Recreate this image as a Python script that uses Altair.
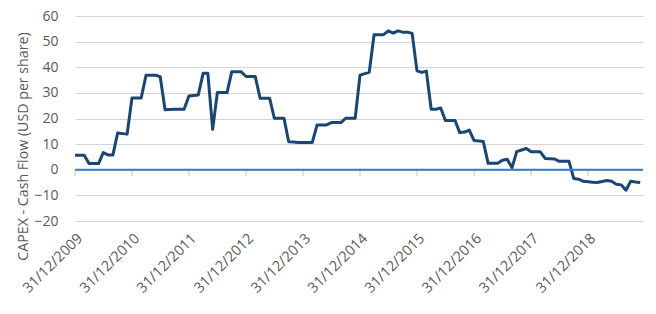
import calendar
import altair as alt
import pandas as pd

# Monthly values, Dec 2009 .. Nov 2019 (USD per share)
values = [
    5.7, 5.7, 5.7, 2.4, 2.4, 2.4, 6.7, 5.8, 5.8, 14.3, 14.1, 13.9,
    28.0, 28.0, 28.0, 36.9, 36.9, 36.9, 36.3, 23.4, 23.5, 23.6, 23.6, 23.6,
    28.8, 29.0, 29.2, 37.7, 37.7, 15.8, 30.1, 30.1, 30.1, 38.2, 38.2, 38.2,
    36.4, 36.4, 36.4, 27.9, 27.9, 27.9, 20.1, 20.1, 20.1, 10.9, 10.8, 10.6,
    10.6, 10.6, 10.6, 17.5, 17.5, 17.5, 18.4, 18.4, 18.4, 20.1, 20.1, 20.1,
    36.9, 37.5, 38.0, 52.7, 52.7, 52.7, 54.2, 53.3, 54.2, 53.7, 53.7, 53.2,
    38.6, 38.0, 38.5, 23.6, 23.6, 24.1, 19.2, 19.2, 19.2, 14.5, 14.7, 15.5,
    11.4, 11.2, 11.0, 2.5, 2.5, 2.5, 3.7, 4.1, 0.8, 7.1, 7.7, 8.3,
    7.0, 7.0, 7.0, 4.4, 4.3, 4.2, 3.3, 3.3, 3.3, -3.4, -3.7, -4.5,
    -4.7, -4.9, -5.0, -4.6, -4.2, -4.5, -5.7, -5.9, -8.0, -4.5, -4.8, -5.0,
]

# month-end dates starting 31/12/2009
dates = []
y, m = 2009, 12
for _ in values:
    d = calendar.monthrange(y, m)[1]
    dates.append(f"{y:04d}-{m:02d}-{d:02d}")
    m += 1
    if m > 12:
        m = 1
        y += 1

tick_years = list(range(2009, 2019))
y_ticks = [60, 50, 40, 30, 20, 10, 0, -10, -20]

df = pd.DataFrame({"date": dates, "value": values})
ticks_df = pd.DataFrame({"date": [f"{yr}-12-31" for yr in tick_years], "value": [0] * len(tick_years)})
zero_df = pd.DataFrame({"value": [0]})

FONT = "Open Sans"
GREY = "#595959"

x_scale = alt.Scale(
    type="utc",
    domain=[alt.DateTime(year=2009, month=12, date=31, utc=True),
            alt.DateTime(year=2019, month=12, date=18, utc=True)],
)
y_scale = alt.Scale(domain=[-20, 60], nice=False)

x_axis = alt.Axis(
    values=[alt.DateTime(year=yr, month=12, date=31, utc=True) for yr in tick_years],
    format="%d/%m/%Y",
    labelAngle=-45,
    labelFont=FONT,
    labelFontSize=14.5,
    labelColor=GREY,
    labelPadding=10,
    labelOverlap=False,
    labelBound=False,
    grid=False,
    ticks=False,
    domain=False,
    title=None,
)

y_axis = alt.Axis(
    values=y_ticks,
    labelFont=FONT,
    labelFontSize=14,
    labelColor=GREY,
    labelPadding=17,
    labelOverlap=False,
    ticks=False,
    domain=False,
    grid=True,
    gridColor="#d4d4d4",
    gridWidth=1,
    title="CAPEX - Cash Flow (USD per share)",
    titleFont=FONT,
    titleFontSize=14.2,
    titleFontWeight="normal",
    titleColor=GREY,
    titlePadding=3,
    titleY=130,
)

X = alt.X("date:T", scale=x_scale, axis=x_axis)
Y = alt.Y("value:Q", scale=y_scale, axis=y_axis)

line = alt.Chart(df).mark_line(color="#1b4673", strokeWidth=3, strokeJoin="round").encode(
    x=X, y=Y,
)

zero = alt.Chart(zero_df).mark_rule(color="#2e7fd4", strokeWidth=2.2).encode(
    y=Y,
)

xticks = alt.Chart(ticks_df).mark_rule(color="#bfbfbf", strokeWidth=1, yOffset=1, y2Offset=6).encode(
    x=X, y=Y, y2=alt.Y2("value:Q"),
)

chart = alt.layer(line, xticks, zero).properties(
    width=568,
    height=205,
    autosize=alt.AutoSizeParams(type="none"),
    padding={"left": 75, "top": 16, "right": 13, "bottom": 93},
).configure_view(stroke=None)

chart.save("out.html", embed_options={"renderer": "svg", "actions": False})
